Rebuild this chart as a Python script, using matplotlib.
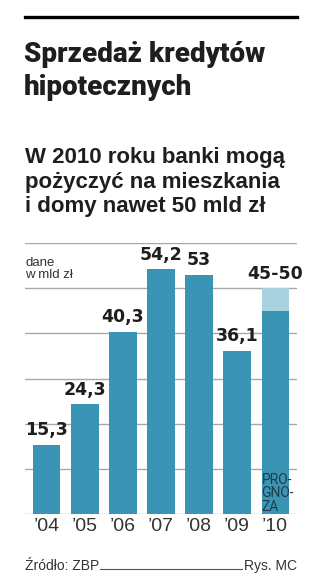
import matplotlib
matplotlib.use("Agg")
import matplotlib.pyplot as plt
from matplotlib.lines import Line2D

# data
years = ["’04", "’05", "’06", "’07", "’08", "’09", "’10"]
values = [15.3, 24.3, 40.3, 54.2, 53.0, 36.1, 45.0]
forecast_top = 50.0
value_labels = ["15,3", "24,3", "40,3", "54,2", "53", "36,1", "45-50"]
grid_levels = [0, 10, 20, 30, 40, 50, 60]

W, H = 320, 587
BAR = "#3a95b4"
BAR_LIGHT = "#a8d3df"
GRID = "#a8a8a8"
DARK = "#1e1e1e"


def fx(x):
    return x / W


def fy(y):
    return 1 - y / H


fig = plt.figure(figsize=(W / 100, H / 100), dpi=100)
fig.patch.set_facecolor("white")

# heavy black rule above the title
fig.add_artist(Line2D([fx(25), fx(297)], [fy(17), fy(17)], color="black", lw=2.4))

title_font = ["Roboto", "DejaVu Sans"]
fig.text(fx(24), fy(62), "Sprzedaż kredytów", fontsize=20, fontweight="black",
         family=title_font, color=DARK, va="baseline")
fig.text(fx(24), fy(95), "hipotecznych", fontsize=20, fontweight="black",
         family=title_font, color=DARK, va="baseline")

sub_font = ["Liberation Sans", "DejaVu Sans"]
for i, line in enumerate(["W 2010 roku banki mogą",
                          "pożyczyć na mieszkania",
                          "i domy nawet 50 mld zł"]):
    fig.text(fx(25), fy(163 + 24.5 * i), line, fontsize=16, fontweight="bold",
             family=sub_font, color=DARK, va="baseline")

ax = fig.add_axes([fx(25), fy(514), fx(297) - fx(25), fy(243) - fy(514)])
x = list(range(len(years)))
ax.bar(x, values, width=0.72, color=BAR, zorder=2)
ax.bar(x[-1], forecast_top - values[-1], bottom=values[-1], width=0.72,
       color=BAR_LIGHT, zorder=2)

tops = values[:-1] + [forecast_top]
for xi, top, lab in zip(x, tops, value_labels):
    ax.annotate(lab, (xi, top), xytext=(0, 4), textcoords="offset points",
                ha="center", va="bottom", fontsize=12.5, fontweight="bold",
                family="DejaVu Sans", color=DARK, zorder=3)

for g in grid_levels:
    ax.axhline(g, color=GRID, lw=1.0, zorder=1)

ax.text(x[-1] - 0.36, 0.1, "PRO-\nGNO-\nZA", fontsize=10, family=["Roboto", "DejaVu Sans"],
        color="#1f3a48", ha="left", va="bottom", linespacing=0.95, zorder=3)

ax.text(0.0, 0.86, "dane\nw mld zł", transform=ax.transAxes, fontsize=9.5,
        family=sub_font, color="#333333", ha="left", va="bottom", linespacing=0.95)

ax.set_xlim(-0.57, 6.57)
ax.set_ylim(0, 60)
ax.set_xticks(x)
ax.set_xticklabels(years, fontsize=14, family=sub_font, color="#333333")
ax.tick_params(axis="x", length=0, pad=3)
ax.set_yticks([])
for s in ax.spines.values():
    s.set_visible(False)

# footer
fig.text(fx(25), fy(570), "Źródło: ZBP", fontsize=10, family=sub_font,
         color="#333333", va="baseline")
fig.text(fx(297), fy(570), "Rys. MC", fontsize=10, family=sub_font,
         color="#333333", va="baseline", ha="right")
fig.add_artist(Line2D([fx(100), fx(242)], [fy(569), fy(569)], color="#555555", lw=0.8))

fig.savefig("out.png", dpi=100, facecolor="white")
